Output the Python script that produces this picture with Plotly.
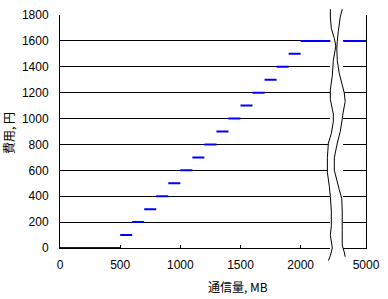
import plotly.graph_objects as go

# Data: step-wise tariff (cost in yen vs traffic in MB)
usage_start = [0, 500, 600, 700, 800, 900, 1000, 1100, 1200, 1300, 1400, 1500, 1600, 1700, 1800, 1900, 2000]
usage_end = [500, 600, 700, 800, 900, 1000, 1100, 1200, 1300, 1400, 1500, 1600, 1700, 1800, 1900, 2000, 5000]
cost_yen = [0, 100, 200, 300, 400, 500, 600, 700, 800, 900, 1000, 1100, 1200, 1300, 1400, 1500, 1600]

x_ticks_left = [0, 500, 1000, 1500, 2000]
x_ticks_right = [5000]
y_ticks = [0, 200, 400, 600, 800, 1000, 1200, 1400, 1600, 1800]

xs, ys = [], []
for s, e, c in zip(usage_start, usage_end, cost_yen):
    xs += [s, e, None]
    ys += [c, c, None]

W, H = 388, 299
L, R, T, B = 60, 19, 8, 51
pw, ph = W - L - R, H - T - B

def px(x):
    return (x - L) / pw

def py(y):
    return (H - B - y) / ph

line_style = dict(color="#0000FF", width=2)
fig = go.Figure()
fig.add_trace(go.Scatter(x=xs, y=ys, mode="lines", line=line_style, xaxis="x", yaxis="y",
                         showlegend=False, hoverinfo="skip", cliponaxis=False))
fig.add_trace(go.Scatter(x=xs, y=ys, mode="lines", line=line_style, xaxis="x2", yaxis="y2",
                         showlegend=False, hoverinfo="skip"))

tickfont = dict(family="Liberation Sans, Arial, sans-serif", size=12, color="black")
left_end = 333
right_start = 346
scale = (303 - 60) / 2000.0
left_max = (left_end - 60) / scale
right_min = 5000 - (369 - right_start) / scale

fig.update_layout(
    width=W, height=H,
    margin=dict(l=L, r=R, t=T, b=B, pad=0),
    paper_bgcolor="white", plot_bgcolor="white",
    xaxis=dict(domain=[0, px(left_end)], range=[0, left_max], anchor="y",
               tickmode="array", tickvals=x_ticks_left, ticks="inside", ticklen=3,
               tickcolor="black", showline=True, linecolor="black", linewidth=1,
               showgrid=False, zeroline=False, tickfont=tickfont, ticklabelstandoff=6,
               layer="below traces"),
    xaxis2=dict(domain=[px(right_start), 1], range=[right_min, 5000], anchor="y2",
                tickmode="array", tickvals=x_ticks_right, ticks="inside", ticklen=3,
                tickcolor="black", showline=True, linecolor="black", linewidth=1,
                showgrid=False, zeroline=False, tickfont=tickfont, ticklabelstandoff=6,
                layer="below traces"),
    yaxis=dict(domain=[0, 1], range=[0, 1800], anchor="x", tickmode="array",
               tickvals=y_ticks, ticks="", showline=True, linecolor="black", linewidth=1,
               showgrid=True, gridcolor="black", gridwidth=1, zeroline=False,
               tickfont=tickfont, ticklabelstandoff=8, layer="below traces"),
    yaxis2=dict(domain=[0, 1], range=[0, 1800], anchor="x2", side="right", tickmode="array",
                tickvals=y_ticks, ticks="", showline=True, linecolor="black", linewidth=1,
                showgrid=True, gridcolor="black", gridwidth=1, zeroline=False,
                showticklabels=False, layer="below traces"),
)

# axis titles
title_font = dict(family="Noto Sans CJK JP, sans-serif", size=12, color="black")
fig.add_annotation(text="通信量, MB", xref="paper", yref="paper", x=px(240), y=py(288),
                   showarrow=False, font=title_font, xanchor="center", yanchor="middle")
fig.add_annotation(text="費用, 円", xref="paper", yref="paper", x=px(8), y=py(130),
                   showarrow=False, font=title_font, textangle=-90, xanchor="center", yanchor="middle")

# axis break decoration (two wavy lines)
left_wave = [(333, 2), (333, 10), (334, 22), (337, 32), (338.5, 40), (336, 55), (335, 70), (333, 85),
             (333, 95), (336, 110), (336, 118), (334, 130), (331, 140), (330, 155), (330, 170),
             (332, 185), (333, 195), (334, 210), (334, 225), (333, 235), (335, 248), (333, 256), (331, 261)]
right_wave = [(345, 2), (343, 10), (341, 25), (340, 35), (339.5, 42), (340, 55), (342, 68), (345, 80),
              (347, 88), (348, 97), (346, 108), (345, 115), (343, 128), (340, 140), (337, 155),
              (337, 168), (340, 180), (342, 188), (344.5, 197), (345, 210), (345, 230), (345, 245),
              (347, 252), (348, 257)]

def to_path(pts, close=False):
    p = "M " + " L ".join(f"{px(x):.5f},{py(y):.5f}" for x, y in pts)
    return p + (" Z" if close else "")

fig.add_shape(type="path", xref="paper", yref="paper",
              path=to_path(left_wave + right_wave[::-1], close=True),
              fillcolor="white", line=dict(width=0), layer="above")
for wave in (left_wave, right_wave):
    fig.add_shape(type="path", xref="paper", yref="paper", path=to_path(wave),
                  line=dict(color="black", width=1), layer="above")

fig.write_html("out.html")
